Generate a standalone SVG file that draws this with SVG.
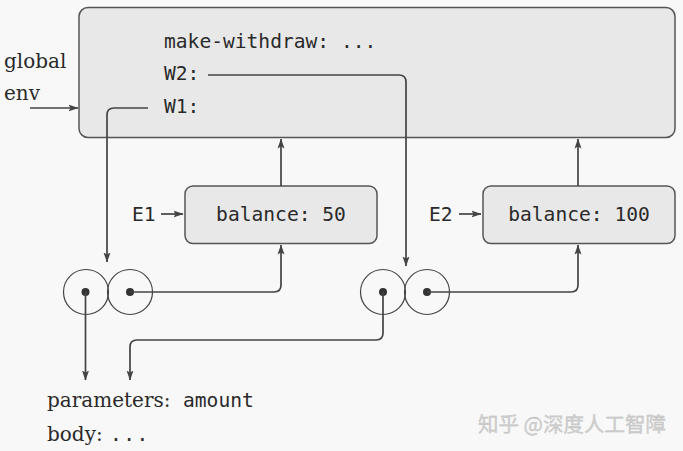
<svg xmlns="http://www.w3.org/2000/svg" width="683" height="451" viewBox="0 0 683 451">
<defs>
<marker id="ah" markerWidth="10" markerHeight="8" refX="9.5" refY="4" orient="auto" markerUnits="userSpaceOnUse">
<path d="M0,0.5 L10,4 L0,7.5 L2,4 Z" fill="#444"/>
</marker>
</defs>
<style>
.box{fill:#e8e8e8;stroke:#555;stroke-width:1.5}
.mono{font-family:"DejaVu Sans Mono","Liberation Mono",monospace;font-size:19.6px;fill:#2a2a2a}
.serif{font-family:"DejaVu Serif","Liberation Serif",serif;font-size:20px;fill:#2a2a2a}
.ln{fill:none;stroke:#444;stroke-width:1.7}
.arr{fill:none;stroke:#444;stroke-width:1.7;marker-end:url(#ah)}
.cir{fill:none;stroke:#444;stroke-width:1.2}
.dot{fill:#333}
</style>
<rect width="683" height="451" fill="#f8f8f8"/>
<g id="global-env">
<rect class="box" x="79" y="7.5" width="596" height="130" rx="9"/>
<text class="mono" x="164" y="48">make-withdraw: ...</text>
<text class="mono" x="164" y="80">W2:</text>
<text class="mono" x="164" y="113">W1:</text>
</g>
<g id="global-label">
<text class="serif" x="4" y="68">global</text>
<text class="serif" x="4" y="100">env</text>
</g>
<g id="E1">
<rect class="box" x="185" y="186" width="192" height="57.5" rx="8"/>
<text class="mono" x="281" y="221" text-anchor="middle">balance: 50</text>
<text class="mono" x="132" y="221">E1</text>
</g>
<g id="E2">
<rect class="box" x="483" y="186" width="192" height="57.5" rx="8"/>
<text class="mono" x="579" y="221" text-anchor="middle">balance: 100</text>
<text class="mono" x="429" y="221">E2</text>
</g>
<g id="proc1">
<circle class="cir" cx="86" cy="292" r="22.5"/>
<circle class="cir" cx="130" cy="292" r="22.5"/>
<circle class="dot" cx="85.5" cy="292" r="4"/>
<circle class="dot" cx="130" cy="292" r="4"/>
</g>
<g id="proc2">
<circle class="cir" cx="383" cy="292" r="22.5"/>
<circle class="cir" cx="427" cy="292" r="22.5"/>
<circle class="dot" cx="383" cy="292" r="4"/>
<circle class="dot" cx="427" cy="292" r="4"/>
</g>
<g id="code">
<text class="serif" x="47" y="407">parameters:</text>
<text class="mono" x="183" y="407">amount</text>
<text class="serif" x="47" y="441">body:</text>
<text class="mono" x="110" y="441" letter-spacing="1.5">...</text>
</g>
<g id="connectors">
<path class="arr" d="M208,75 H399 Q406,75 406,82 V266"/>
<path class="arr" d="M30,108 H78"/>
<path class="arr" d="M148,108 H114 Q107,108 107,115 V262"/>
<path class="arr" d="M161,214 H183"/>
<path class="arr" d="M459,214 H481"/>
<path class="arr" d="M281,186 V139"/>
<path class="arr" d="M578,186 V139"/>
<path class="arr" d="M130,292 H274 Q281,292 281,285 V245"/>
<path class="arr" d="M427,292 H571 Q578,292 578,285 V245"/>
<path class="arr" d="M85.5,292 V380"/>
<path class="arr" d="M383,292 V333 Q383,340 376,340 H137 Q130,340 130,347 V380"/>
</g>
<text x="478" y="432" font-family="'Noto Sans CJK SC',sans-serif" font-size="20.5" fill="#d0d0d0" stroke="#bbb" stroke-width="0.3">知乎 @深度人工智障</text>
</svg>
